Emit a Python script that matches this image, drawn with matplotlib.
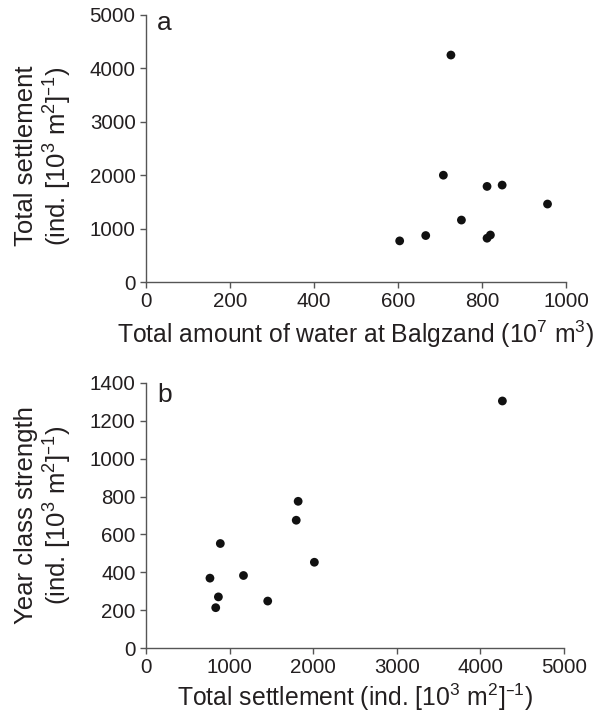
import matplotlib
matplotlib.use("Agg")
import matplotlib.pyplot as plt

plt.rcParams['font.family'] = ['Liberation Sans', 'DejaVu Sans']
plt.rcParams['mathtext.default'] = 'regular'

# panel a: water volume vs total settlement
water = [604, 666, 726, 708, 751, 812, 848, 812, 820, 956]
settle_a = [770, 870, 4250, 2000, 1160, 1790, 1815, 820, 880, 1460]

# panel b: total settlement vs year class strength
settle_b = [4263, 1820, 1797, 889, 2014, 765, 1166, 866, 834, 1456]
ycs = [1305, 775, 675, 552, 453, 369, 383, 270, 213, 248]

txt = '#231f20'

fig = plt.figure(figsize=(6.06, 7.13), dpi=100)
axa = fig.add_axes([146/606, 1-282/713, 420/606, 267/713])
axb = fig.add_axes([146/606, 1-648/713, 418/606, 265/713])

def style(ax):
    for s in ['top', 'right']:
        ax.spines[s].set_visible(False)
    for s in ['left', 'bottom']:
        ax.spines[s].set_color('#555555')
        ax.spines[s].set_linewidth(1.0)
    ax.tick_params(direction='out', length=4.5, width=1.0, color='#555555',
                   labelsize=14.8, labelcolor=txt, pad=3)

axa.scatter(water, settle_a, s=40, color='#111111', edgecolors='none', zorder=3, clip_on=False)
axa.set_xlim(0, 1000)
axa.set_ylim(0, 5000)
axa.set_xticks([0, 200, 400, 600, 800, 1000])
axa.set_yticks([0, 1000, 2000, 3000, 4000, 5000])
style(axa)
axa.set_xlabel('Total amount of water at Balgzand (10$^7$ m$^3$)', fontsize=17.8, color=txt, labelpad=5)
axa.set_ylabel('Total settlement\n(ind. [10$^3$ m$^2$]$^{\u20131}$)', fontsize=18.5, color=txt, linespacing=1.15)
axa.yaxis.set_label_coords(-0.172, 0.472)
axa.text(0.026, 0.944, 'a', transform=axa.transAxes, fontsize=19, va='baseline', color=txt)

axb.scatter(settle_b, ycs, s=40, color='#111111', edgecolors='none', zorder=3, clip_on=False)
axb.set_xlim(0, 5000)
axb.set_ylim(0, 1400)
axb.set_xticks([0, 1000, 2000, 3000, 4000, 5000])
axb.set_yticks([0, 200, 400, 600, 800, 1000, 1200, 1400])
style(axb)
axb.set_xlabel('Total settlement (ind. [10$^3$ m$^2$]$^{\u20131}$)', fontsize=17.8, color=txt, labelpad=3)
axb.set_ylabel('Year class strength\n(ind. [10$^3$ m$^2$]$^{\u20131}$)', fontsize=18.5, color=txt, linespacing=1.15)
axb.yaxis.set_label_coords(-0.172, 0.5)
axb.text(0.026, 0.929, 'b', transform=axb.transAxes, fontsize=19, va='baseline', color=txt)

fig.savefig('out.png', dpi=100)
